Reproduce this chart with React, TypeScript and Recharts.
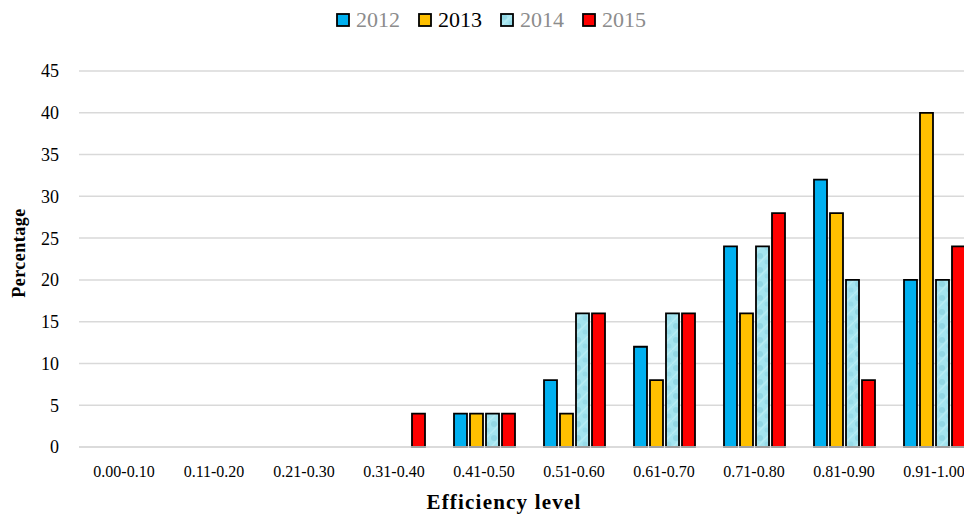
import React from 'react';
import {
  BarChart,
  Bar,
  XAxis,
  YAxis,
  CartesianGrid,
  Label,
} from 'recharts';

const categories = [
  '0.00-0.10',
  '0.11-0.20',
  '0.21-0.30',
  '0.31-0.40',
  '0.41-0.50',
  '0.51-0.60',
  '0.61-0.70',
  '0.71-0.80',
  '0.81-0.90',
  '0.91-1.00',
];

const values2012 = [0, 0, 0, 0, 4, 8, 12, 24, 32, 20];
const values2013 = [0, 0, 0, 0, 4, 4, 8, 16, 28, 40];
const values2014 = [0, 0, 0, 0, 4, 16, 16, 24, 20, 20];
const values2015 = [0, 0, 0, 4, 4, 16, 16, 28, 8, 24];

const yTicks = [0, 5, 10, 15, 20, 25, 30, 35, 40, 45];

const data = categories.map((level, i) => ({
  level,
  y2012: values2012[i],
  y2013: values2013[i],
  y2014: values2014[i],
  y2015: values2015[i],
}));

const FONT = '"Liberation Serif", serif';

const legendItems = [
  { label: '2012', fill: '#00B0F0', color: '#8c8c8c' },
  { label: '2013', fill: '#FFC000', color: '#000' },
  { label: '2014', fill: 'url(#p2014)', color: '#8c8c8c' },
  { label: '2015', fill: '#FF0000', color: '#8c8c8c' },
];

const ChartLegend: React.FC = () => (
  <div
    style={{
      position: 'absolute',
      left: 336,
      top: 8,
      display: 'flex',
      fontFamily: FONT,
      fontSize: 22,
    }}
  >
    {legendItems.map((item) => (
      <div
        key={item.label}
        style={{ display: 'flex', alignItems: 'center', marginRight: 18 }}
      >
        <svg width={14} height={14} style={{ marginRight: 6 }}>
          <rect
            x={1}
            y={1}
            width={12}
            height={12}
            fill={item.fill}
            stroke="#000"
            strokeWidth={1.8}
          />
        </svg>
        <span style={{ color: item.color, lineHeight: '24px' }}>
          {item.label}
        </span>
      </div>
    ))}
  </div>
);

const App: React.FC = () => {
  return (
    <div
      style={{
        position: 'absolute',
        left: 0,
        top: 0,
        width: 964,
        height: 515,
        overflow: 'hidden',
        background: '#fff',
      }}
    >
      <BarChart
        width={994}
        height={515}
        data={data}
        margin={{ top: 71, right: 15, left: 19, bottom: 8 }}
        barSize={13}
        barGap={3}
      >
        <defs>
          <pattern
            id="p2014"
            patternUnits="userSpaceOnUse"
            width={14}
            height={14}
          >
            <rect width={14} height={14} fill="#A4E4EF" />
            <circle cx={4} cy={4} r={3} fill="#86CFDC" opacity={0.6} />
            <circle cx={11} cy={10} r={2.5} fill="#8ED6E2" opacity={0.6} />
            <path d="M0 14 L14 0" stroke="#C8F1F7" strokeWidth={1.5} opacity={0.5} />
          </pattern>
        </defs>
        <CartesianGrid
          horizontal={true}
          vertical={false}
          stroke="#d9d9d9"
          strokeWidth={1.5}
        />
        <XAxis
          dataKey="level"
          axisLine={{ stroke: '#d9d9d9', strokeWidth: 1.5 }}
          tickLine={false}
          tickMargin={13}
          height={60}
          interval={0}
          tick={{ fontSize: 16, fill: '#000', fontFamily: FONT }}
        >
          <Label
            content={() => (
              <text
                x={504}
                y={509}
                textAnchor="middle"
                fontSize={21}
                fontWeight={700}
                letterSpacing={1.2}
                fontFamily={FONT}
                fill="#000"
              >
                Efficiency level
              </text>
            )}
          />
        </XAxis>
        <YAxis
          domain={[0, 45]}
          ticks={yTicks}
          axisLine={false}
          tickLine={false}
          tickMargin={14}
          width={60}
          tick={{ fontSize: 18, fill: '#000', fontFamily: FONT }}
        >
          <Label
            content={(props: any) => {
              const vb = props.viewBox || {};
              const cy = (vb.y || 0) + (vb.height || 0) / 2 - 6;
              return (
                <text
                  x={19}
                  y={cy}
                  transform={`rotate(-90, 19, ${cy})`}
                  textAnchor="middle"
                  dominantBaseline="central"
                  fontSize={18}
                  fontWeight={700}
                  letterSpacing={0.5}
                  fontFamily={FONT}
                  fill="#000"
                >
                  Percentage
                </text>
              );
            }}
          />
        </YAxis>
        <Bar
          dataKey="y2012"
          fill="#00B0F0"
          stroke="#000"
          strokeWidth={1.8}
          isAnimationActive={false}
        />
        <Bar
          dataKey="y2013"
          fill="#FFC000"
          stroke="#000"
          strokeWidth={1.8}
          isAnimationActive={false}
        />
        <Bar
          dataKey="y2014"
          fill="url(#p2014)"
          stroke="#000"
          strokeWidth={1.8}
          isAnimationActive={false}
        />
        <Bar
          dataKey="y2015"
          fill="#FF0000"
          stroke="#000"
          strokeWidth={1.8}
          isAnimationActive={false}
        />
      </BarChart>
      <ChartLegend />
    </div>
  );
};

export default App;
